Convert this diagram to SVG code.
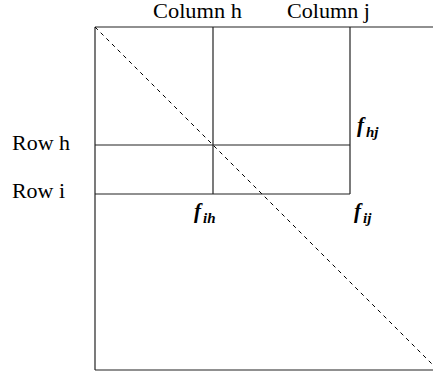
<svg xmlns="http://www.w3.org/2000/svg" width="433" height="377" viewBox="0 0 433 377">
<style>
.ln{stroke:#222;stroke-width:1.2;fill:none}
.lbl{font-family:"Liberation Serif","Times New Roman",serif;font-size:21px;fill:#000}
.f{font-family:"Liberation Serif","Times New Roman","DejaVu Serif",serif;font-size:21px;font-style:italic;font-weight:bold;fill:#000}
.s{font-size:15px}
</style>
<rect width="433" height="377" fill="#fff"/>
<g id="connectors">
<line class="ln" x1="95" y1="27" x2="433" y2="27"/>
<line class="ln" x1="95" y1="27" x2="95" y2="370"/>
<line class="ln" x1="95" y1="370" x2="433" y2="370"/>
<line class="ln" x1="213" y1="27" x2="213" y2="194"/>
<line class="ln" x1="350" y1="27" x2="350" y2="194"/>
<line class="ln" x1="95" y1="145" x2="350" y2="145"/>
<line class="ln" x1="95" y1="194" x2="350" y2="194"/>
<line x1="95" y1="27" x2="433" y2="365" stroke="#000" stroke-width="1" stroke-dasharray="4,4"/>
</g>
<g id="colh"><text class="lbl" x="153" y="18" textLength="89" lengthAdjust="spacingAndGlyphs">Column h</text></g>
<g id="colj"><text class="lbl" x="287" y="18" textLength="83" lengthAdjust="spacingAndGlyphs">Column j</text></g>
<g id="rowh"><text class="lbl" x="12" y="150" textLength="58" lengthAdjust="spacingAndGlyphs">Row h</text></g>
<g id="rowi"><text class="lbl" x="12" y="198" textLength="53" lengthAdjust="spacingAndGlyphs">Row i</text></g>
<g id="fhj"><text class="f" x="357" y="132">f<tspan class="s" dx="2" dy="5">hj</tspan></text></g>
<g id="fih"><text class="f" x="194" y="218">f<tspan class="s" dx="2" dy="5">ih</tspan></text></g>
<g id="fij"><text class="f" x="354" y="218">f<tspan class="s" dx="2" dy="5">ij</tspan></text></g>
</svg>
